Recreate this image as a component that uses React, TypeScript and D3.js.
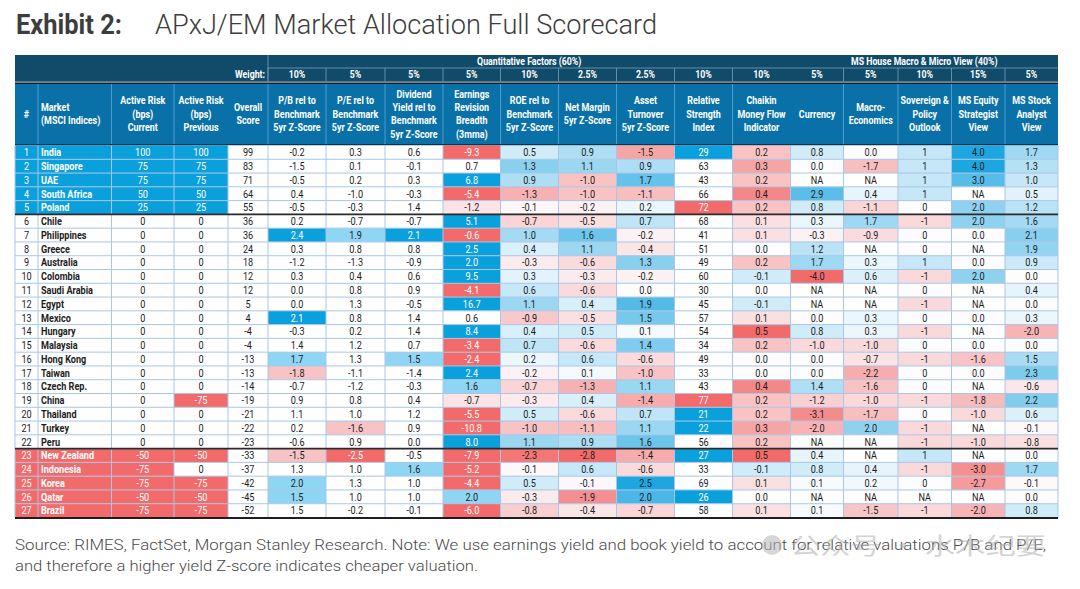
import React from 'react';
import * as d3 from 'd3';

// ---------------- DATA ----------------
const markets = ['India', 'Singapore', 'UAE', 'South Africa', 'Poland', 'Chile', 'Philippines', 'Greece', 'Australia', 'Colombia', 'Saudi Arabia', 'Egypt', 'Mexico', 'Hungary', 'Malaysia', 'Hong Kong', 'Taiwan', 'Czech Rep.', 'China', 'Thailand', 'Turkey', 'Peru', 'New Zealand', 'Indonesia', 'Korea', 'Qatar', 'Brazil'];
const activeRiskCurrent = [100, 75, 75, 50, 25, 0, 0, 0, 0, 0, 0, 0, 0, 0, 0, 0, 0, 0, 0, 0, 0, 0, -50, -75, -75, -50, -75];
const activeRiskPrevious = [100, 75, 75, 50, 25, 0, 0, 0, 0, 0, 0, 0, 0, 0, 0, 0, 0, 0, -75, 0, 0, 0, -50, 0, -75, -50, -75];
const overallScore = [99, 83, 71, 64, 55, 36, 36, 24, 18, 12, 12, 5, 4, -4, -4, -13, -13, -14, -19, -21, -22, -23, -33, -37, -42, -45, -52];
const pbZ = [-0.2, -1.5, -0.5, 0.4, -0.5, 0.2, 2.4, 0.3, -1.2, 0.3, 0.0, 0.0, 2.1, -0.3, 1.4, 1.7, -1.8, -0.7, 0.9, 1.1, 0.2, -0.6, -1.5, 1.3, 2.0, 1.5, 1.5];
const peZ = [0.3, 0.1, 0.2, -1.0, -0.3, -0.7, 1.9, 0.8, -1.3, 0.4, 0.8, 1.3, 0.8, 0.2, 1.2, 1.3, -1.1, -1.2, 0.8, 1.0, -1.6, 0.9, -2.5, 1.0, 1.3, 1.0, -0.2];
const dyZ = [0.6, -0.1, 0.3, -0.3, 1.4, -0.7, 2.1, 0.8, -0.9, 0.6, 0.9, -0.5, 1.4, 1.4, 0.7, 1.5, -1.4, -0.3, 0.4, 1.2, 0.9, 0.0, -0.5, 1.6, 1.0, 1.0, -0.1];
const earningsRevision = [-9.3, 0.7, 6.8, -5.4, -1.2, 5.1, -0.6, 2.5, 2.0, 9.5, -4.1, 16.7, 0.6, 8.4, -3.4, -2.4, 2.4, 1.6, -0.7, -5.5, -10.8, 8.0, -7.9, -5.2, -4.4, 2.0, -6.0];
const roeZ = [0.5, 1.3, 0.9, -1.3, -0.1, -0.7, 1.0, 0.4, -0.3, 0.3, 0.6, 1.1, -0.9, 0.4, 0.7, 0.2, -0.2, -0.7, -0.3, 0.5, -1.0, 1.1, -2.3, -0.1, 0.5, -0.3, -0.8];
const netMarginZ = [0.9, 1.1, -1.0, -1.0, -0.2, -0.5, 1.6, 1.1, -0.6, -0.3, -0.6, 0.4, -0.5, 0.5, -0.6, 0.6, 0.1, -1.3, 0.4, -0.6, -1.1, 0.9, -2.8, 0.6, -0.1, -1.9, -0.4];
const assetTurnoverZ = [-1.5, 0.9, 1.7, -1.1, 0.2, 0.7, -0.2, -0.4, 1.3, -0.2, 0.0, 1.9, 1.5, 0.1, 1.4, -0.6, -1.0, 1.1, -1.4, 0.7, 1.1, 1.6, -1.4, -0.6, 2.5, 2.0, -0.7];
const rsi = [29, 63, 43, 66, 72, 68, 41, 51, 49, 60, 30, 45, 57, 54, 34, 49, 33, 43, 77, 21, 22, 56, 27, 33, 69, 26, 58];
const chaikin = [0.2, 0.3, 0.2, 0.4, 0.2, 0.1, 0.1, 0.0, 0.2, -0.1, 0.0, -0.1, 0.1, 0.5, 0.2, 0.0, 0.0, 0.4, 0.2, 0.2, 0.3, 0.2, 0.5, -0.1, 0.1, 0.0, 0.1];
const currency = [0.8, 0.0, null, 2.9, 0.8, 0.3, -0.3, 1.2, 1.7, -4.0, null, null, 0.0, 0.8, -1.0, 0.0, 0.0, 1.4, -1.2, -3.1, -2.0, null, 0.4, 0.8, 0.1, null, 0.1];
const macroEconomics = [0.0, -1.7, null, 0.4, -1.1, 1.7, -0.9, null, 0.3, 0.6, null, null, 0.3, 0.3, -1.0, -0.7, -2.2, -1.6, -1.0, -1.7, 2.0, null, null, 0.4, 0.2, null, -1.5];
const sovereignPolicy = [1, 1, 1, 1, 0, -1, 0, 0, 1, -1, 0, -1, 0, -1, 0, -1, 0, 0, -1, 0, -1, -1, 1, -1, 0, null, -1];
const strategistView = [4.0, 4.0, 3.0, null, 2.0, 2.0, 0.0, null, 0.0, 2.0, null, null, 0.0, null, 0.0, -1.6, 0.0, null, -1.8, -1.0, null, -1.0, null, -3.0, -2.7, null, -2.0];
const analystView = [1.7, 1.3, 1.0, 0.5, 1.2, 1.6, 2.1, 1.9, 0.9, 0.0, 0.4, 0.0, 0.3, -2.0, 0.0, 1.5, 2.3, -0.6, 2.2, 0.6, -0.1, -0.8, 0.0, 1.7, -0.1, 0.0, 0.8];

// signal flags shown by the highlighted cells (B strong+, b mild+, p faint-, r mild-, R strong-, w none)
const pbSignal = 'wwwwwwBwwwwwBwwbrwwwwwrwbbw';
const peSignal = 'wwwwwwbwwwwwwwwwwwwwrwRwwww';
const dySignal = 'wwwwwwBwwwwwwwwbwwwwwwwbwww';
const erbSignal = 'RwBRpBRBBBRBwBRRBbpRRBRRRbR';

const weights = ['10%', '5%', '5%', '5%', '10%', '2.5%', '2.5%', '10%', '10%', '5%', '5%', '10%', '15%', '5%'];
const groupLabels = ['Quantitative Factors (60%)', 'MS House Macro & Micro View (40%)'];
const headerLabels = [
  ['#'],
  ['Market', '(MSCI Indices)'],
  ['Active Risk', '(bps)', 'Current'],
  ['Active Risk', '(bps)', 'Previous'],
  ['Overall', 'Score'],
  ['P/B rel to', 'Benchmark', '5yr Z-Score'],
  ['P/E rel to', 'Benchmark', '5yr Z-Score'],
  ['Dividend', 'Yield rel to', 'Benchmark', '5yr Z-Score'],
  ['Earnings', 'Revision', 'Breadth', '(3mma)'],
  ['ROE rel to', 'Benchmark', '5yr Z-Score'],
  ['Net Margin', '5yr Z-Score'],
  ['Asset', 'Turnover', '5yr Z-Score'],
  ['Relative', 'Strength', 'Index'],
  ['Chaikin', 'Money Flow', 'Indicator'],
  ['Currency'],
  ['Macro-', 'Economics'],
  ['Sovereign &', 'Policy', 'Outlook'],
  ['MS Equity', 'Strategist', 'View'],
  ['MS Stock', 'Analyst', 'View'],
];
const titleBold = 'Exhibit 2:';
const titleText = 'APxJ/EM Market Allocation Full Scorecard';
const sourceLines = [
  'Source: RIMES, FactSet, Morgan Stanley Research. Note: We use earnings yield and book yield to account for relative valuations P/B and P/E,',
  'and therefore a higher yield Z-score indicates cheaper valuation.',
];
const watermark = '公众号 · 水木纪要';

// ---------------- LAYOUT / STYLE ----------------
const FONT = "Roboto, 'Liberation Sans', Arial, sans-serif";
const colWidths = [23, 73.5, 62.5, 54, 40, 58, 59, 58, 57.5, 58, 58, 58, 58, 58, 53, 54.5, 53.5, 53.5, 53];
const LEFT = 15;
const TOP = 55;
const GROUP_B = 68;
const WEIGHT_B = 81.5;
const HEAD_T = 84;
const HEAD_B = 144;
const DATA_T = 145.5;
const DATA_B = 517.5;

const STRONG_BLUE = '#0aa0dc';
const STRONG_RED = '#f26a6a';
const LIGHT_BLUE = '#8fd6f4';
const LIGHT_RED = '#f8c3c5';
const PALE_RED = '#fbe3e6';
const GRAD_BLUE = '#1ea6e0';
const GRAD_RED = '#f26b6b';
const GRAD_MID = '#fdfdff';
const DARK_HEAD = '#114b6a';
const MID_HEAD = '#0a71a8';
const GRID = '#a9c6e8';
const TEXT = '#1c1c1c';

const toneFill: Record<string, string> = { B: STRONG_BLUE, b: LIGHT_BLUE, r: LIGHT_RED, p: PALE_RED, R: STRONG_RED, w: '#ffffff' };
const toneText: Record<string, string> = { B: '#ffffff', R: '#ffffff', b: TEXT, r: TEXT, p: TEXT, w: TEXT };

const gradScale = (d: number, reversed = false) =>
  d3.scaleLinear<string>()
    .domain([-d, 0, d])
    .range(reversed ? [GRAD_BLUE, GRAD_MID, GRAD_RED] : [GRAD_RED, GRAD_MID, GRAD_BLUE])
    .interpolate(d3.interpolateRgb)
    .clamp(true);

const fmt1 = (v: number | null) => (v == null ? 'NA' : v.toFixed(1));
const fmt0 = (v: number | null) => (v == null ? 'NA' : String(v));

type Cell = { text: string; fill: string; color: string; bold?: boolean; anchor?: string };

const zScale = gradScale(2.5);
const cmfScale = gradScale(0.5, true);
const houseScale = gradScale(4);

const gradCell = (v: number | null, sc: (x: number) => string, f = fmt1): Cell => ({
  text: f(v),
  fill: v == null ? '#ffffff' : sc(v),
  color: TEXT,
});
const toneCell = (v: number, t: string): Cell => ({ text: fmt1(v), fill: toneFill[t], color: toneText[t] });
const arCell = (v: number): Cell => ({
  text: String(v),
  fill: v > 0 ? STRONG_BLUE : v < 0 ? STRONG_RED : '#ffffff',
  color: v !== 0 ? '#ffffff' : TEXT,
});

function buildRow(i: number): Cell[] {
  const ar = activeRiskCurrent[i];
  const hl = ar > 0 ? STRONG_BLUE : ar < 0 ? STRONG_RED : '#ffffff';
  const hlText = ar !== 0 ? '#ffffff' : TEXT;
  const r = rsi[i];
  return [
    { text: String(i + 1), fill: hl, color: hlText },
    { text: markets[i], fill: hl, color: hlText, bold: true, anchor: 'start' },
    arCell(activeRiskCurrent[i]),
    arCell(activeRiskPrevious[i]),
    { text: String(overallScore[i]), fill: '#ffffff', color: TEXT },
    toneCell(pbZ[i], pbSignal[i]),
    toneCell(peZ[i], peSignal[i]),
    toneCell(dyZ[i], dySignal[i]),
    toneCell(earningsRevision[i], erbSignal[i]),
    gradCell(roeZ[i], zScale),
    gradCell(netMarginZ[i], zScale),
    gradCell(assetTurnoverZ[i], zScale),
    {
      text: String(r),
      fill: r < 30 ? STRONG_BLUE : r > 70 ? STRONG_RED : '#ffffff',
      color: r < 30 || r > 70 ? '#ffffff' : TEXT,
    },
    gradCell(chaikin[i], cmfScale),
    gradCell(currency[i], houseScale),
    gradCell(macroEconomics[i], houseScale),
    gradCell(sovereignPolicy[i], houseScale, fmt0),
    gradCell(strategistView[i], houseScale),
    gradCell(analystView[i], houseScale),
  ];
}

const T = ({ x, y, children, anchor = 'middle', size = 10.6, weight = 400, fill = TEXT, sx = 0.86 }: any) => (
  <text
    transform={`translate(${x},${y}) scale(${sx},1)`}
    textAnchor={anchor}
    fontSize={size}
    fontWeight={weight}
    fill={fill}
    fontFamily={FONT}
    dy="0.36em"
  >
    {children}
  </text>
);

export default function App() {
  const edges = Array.from(d3.cumsum([0, ...colWidths]), (v) => LEFT + v);
  const RIGHT = edges[edges.length - 1];
  const y = d3.scaleBand<string>().domain(markets).range([DATA_T, DATA_B]);
  const bw = y.bandwidth();
  const rows = markets.map((_, i) => buildRow(i));

  // header separators
  const headSepIdx = [1, 2, 3, 5, 6, 7, 8, 9, 10, 11, 12, 13, 15, 16, 17, 18];
  const weightSepIdx = [5, 6, 7, 8, 9, 10, 11, 12, 13, 15, 16, 17, 18];
  const quantStart = edges[5];
  const houseStart = edges[14];

  return (
    <svg width={1080} height={589} style={{ position: 'absolute', left: 0, top: 0, background: '#fff' }}>
      <rect x={0} y={0} width={1080} height={589} fill="#ffffff" />

      {/* Title */}
      <text x={16} y={34} fontFamily={FONT} fontWeight={700} fontSize={28} fill="#3d3d3d" textLength={106} lengthAdjust="spacingAndGlyphs">
        {titleBold}
      </text>
      <text x={155} y={34} fontFamily={FONT} fontWeight={300} fontSize={28} fill="#3d3d3d" textLength={502} lengthAdjust="spacingAndGlyphs">
        {titleText}
      </text>

      {/* Header backgrounds */}
      <rect x={LEFT} y={TOP} width={RIGHT - LEFT} height={WEIGHT_B - TOP} fill={DARK_HEAD} />
      <rect x={LEFT} y={HEAD_T} width={RIGHT - LEFT} height={HEAD_B - HEAD_T} fill={MID_HEAD} />
      <rect x={LEFT} y={WEIGHT_B} width={RIGHT - LEFT} height={HEAD_T - WEIGHT_B} fill="#e8eef2" />
      <line x1={LEFT} x2={RIGHT} y1={WEIGHT_B + 0.5} y2={WEIGHT_B + 0.5} stroke="#0b1f2c" strokeWidth={1} />
      <line x1={LEFT} x2={RIGHT} y1={HEAD_T - 0.5} y2={HEAD_T - 0.5} stroke="#0b1f2c" strokeWidth={1} />
      <line x1={LEFT} x2={RIGHT} y1={HEAD_B + 0.7} y2={HEAD_B + 0.7} stroke="#0d3550" strokeWidth={1.5} />

      {/* group row */}
      <line x1={quantStart} x2={RIGHT} y1={GROUP_B} y2={GROUP_B} stroke="#5f8eab" strokeWidth={1} />
      <line x1={quantStart} x2={quantStart} y1={TOP} y2={WEIGHT_B} stroke="#5f8eab" strokeWidth={1} />
      <T x={(quantStart + houseStart) / 2} y={(TOP + GROUP_B) / 2} fill="#fff" weight={700} size={10.2}>
        {groupLabels[0]}
      </T>
      <T x={(houseStart + RIGHT) / 2} y={(TOP + GROUP_B) / 2} fill="#fff" weight={700} size={10.2}>
        {groupLabels[1]}
      </T>

      {/* weight row */}
      {weightSepIdx.map((k) => (
        <line key={'ws' + k} x1={edges[k]} x2={edges[k]} y1={GROUP_B} y2={WEIGHT_B} stroke="#5f8eab" strokeWidth={1} />
      ))}
      <T x={edges[5] - 3} y={(GROUP_B + WEIGHT_B) / 2} anchor="end" fill="#fff" weight={700} size={10.2}>
        Weight:
      </T>
      {weights.map((w, k) => (
        <T key={'w' + k} x={(edges[k + 5] + edges[k + 6]) / 2} y={(GROUP_B + WEIGHT_B) / 2} fill="#fff" weight={700} size={10.2}>
          {w}
        </T>
      ))}

      {/* column header row */}
      {headSepIdx.map((k) => (
        <line key={'hs' + k} x1={edges[k]} x2={edges[k]} y1={HEAD_T} y2={HEAD_B} stroke="#4a9ccd" strokeWidth={1} />
      ))}
      {headerLabels.map((lines, k) => {
        const cy = (HEAD_T + HEAD_B) / 2;
        const lh = 13.3;
        const isMarket = k === 1;
        const cx = isMarket ? edges[k] + 3 : (edges[k] + edges[k + 1]) / 2;
        return lines.map((ln, j) => (
          <T
            key={'h' + k + '-' + j}
            x={cx}
            y={cy - ((lines.length - 1) * lh) / 2 + j * lh}
            anchor={isMarket ? 'start' : 'middle'}
            fill="#fff"
            weight={700}
            size={10.4}
          >
            {ln}
          </T>
        ));
      })}

      {/* data cells */}
      {rows.map((cells, i) =>
        cells.map((c, k) => (
          <rect
            key={'c' + i + '-' + k}
            x={edges[k]}
            y={y(markets[i])!}
            width={edges[k + 1] - edges[k]}
            height={bw}
            fill={c.fill}
          />
        ))
      )}

      {/* grid */}
      {markets.map((m, i) =>
        i === 0 ? null : (
          <line key={'hl' + i} x1={LEFT} x2={RIGHT} y1={y(m)!} y2={y(m)!} stroke={GRID} strokeWidth={1} />
        )
      )}
      {edges.map((ex, k) => (
        <line key={'vl' + k} x1={ex} x2={ex} y1={DATA_T} y2={DATA_B} stroke={GRID} strokeWidth={1} />
      ))}
      <line x1={LEFT} x2={RIGHT} y1={y(markets[5])!} y2={y(markets[5])!} stroke="#2a2a2a" strokeWidth={1.6} />
      <line x1={LEFT} x2={RIGHT} y1={y(markets[22])!} y2={y(markets[22])!} stroke="#2a2a2a" strokeWidth={1.6} />
      <line x1={LEFT} x2={RIGHT} y1={DATA_B + 0.5} y2={DATA_B + 0.5} stroke="#1e1e1e" strokeWidth={2} />

      {/* data text */}
      {rows.map((cells, i) =>
        cells.map((c, k) => (
          <T
            key={'t' + i + '-' + k}
            x={c.anchor === 'start' ? edges[k] + 3 : (edges[k] + edges[k + 1]) / 2}
            y={y(markets[i])! + bw / 2}
            anchor={c.anchor || 'middle'}
            fill={c.color}
            weight={c.bold ? 700 : 400}
          >
            {c.text}
          </T>
        ))
      )}

      {/* source */}
      {sourceLines.map((s, j) => (
        <text
          key={'s' + j}
          x={15}
          y={550 + j * 21}
          fontFamily={FONT}
          fontWeight={300}
          fontSize={15.5}
          fill="#4a4a4a"
          textLength={j === 0 ? 1031 : 463}
          lengthAdjust="spacingAndGlyphs"
        >
          {s}
        </text>
      ))}

      {/* watermark */}
      <g opacity={0.55}>
        <circle cx={772} cy={545} r={10} fill="#b8b8b8" />
        <text x={790} y={554} fontFamily="'Noto Sans CJK SC', sans-serif" fontSize={23} fill="#b0b0b0" textLength={256} lengthAdjust="spacingAndGlyphs">
          {watermark}
        </text>
      </g>
    </svg>
  );
}
